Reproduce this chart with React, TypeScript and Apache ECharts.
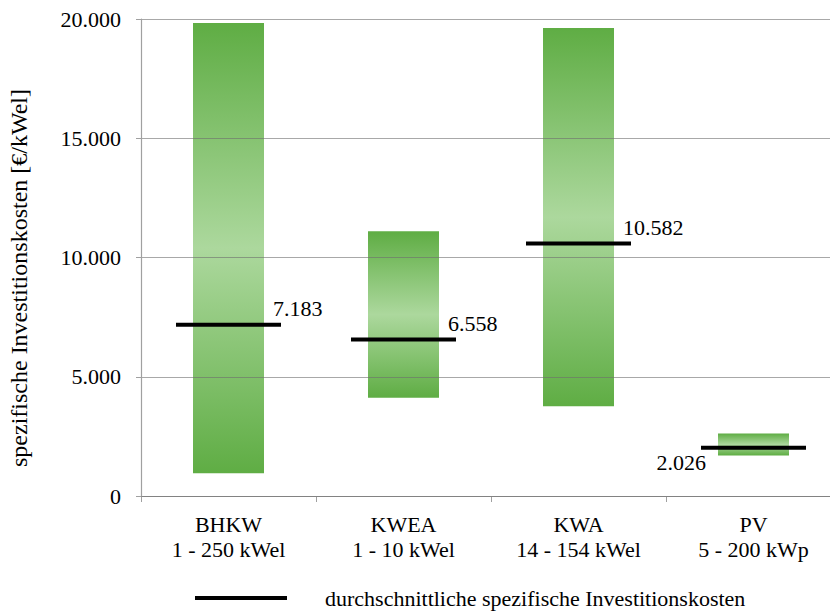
import React, { useEffect, useRef } from "react";
import * as echarts from "echarts";

const categories = ["BHKW\n1 - 250 kWel", "KWEA\n1 - 10 kWel", "KWA\n14 - 154 kWel", "PV\n5 - 200 kWp"];
const minValues = [950, 4120, 3760, 1700];
const maxValues = [19830, 11100, 19620, 2620];
const avgValues = [7183, 6558, 10582, 2026];
const yTicks = [0, 5000, 10000, 15000, 20000];
const legendName = "durchschnittliche spezifische Investitionskosten";
const yAxisTitle = "spezifische Investitionskosten [€/kWel]";

const fmt = (v: number) => String(Math.round(v)).replace(/\B(?=(\d{3})+(?!\d))/g, ".");

const FONT = "Liberation Serif";

export default function App() {
  const ref = useRef<HTMLDivElement>(null);
  useEffect(() => {
    if (!ref.current) return;
    const chart = echarts.init(ref.current, null, { renderer: "svg" });
    const grad = new echarts.graphic.LinearGradient(0, 0, 0, 1, [
      { offset: 0, color: "#5fad44" },
      { offset: 0.5, color: "#acd89d" },
      { offset: 1, color: "#5fad44" },
    ]);
    const txt = { fontFamily: FONT, fontSize: 22, color: "#000" };
    chart.setOption({
      animation: false,
      textStyle: { fontFamily: FONT },
      grid: { left: 141, top: 19, width: 700, height: 477, containLabel: false },
      graphic: [
        {
          type: "text",
          x: 19,
          y: 278,
          rotation: Math.PI / 2,
          style: {
            text: yAxisTitle,
            fontFamily: FONT,
            fontSize: 24,
            fill: "#000",
            align: "center",
            verticalAlign: "middle",
          },
        },
      ],
      legend: {
        data: [{ name: legendName, icon: "rect" }],
        left: 195,
        top: 587,
        padding: 0,
        itemWidth: 92,
        itemHeight: 4,
        textStyle: { ...txt, padding: [0, 0, 0, 33] },
      },
      xAxis: {
        type: "category",
        data: categories,
        axisLine: { lineStyle: { color: "#a0a0a0", width: 1.2 } },
        axisTick: { show: true, length: 6, lineStyle: { color: "#a0a0a0" } },
        axisLabel: { ...txt, lineHeight: 25, margin: 16 },
      },
      yAxis: {
        type: "value",
        min: 0,
        max: 20000,
        interval: 5000,
        z: 3,
        axisLine: { show: true, lineStyle: { color: "#a0a0a0", width: 1.2 } },
        axisTick: { show: true, length: 5, lineStyle: { color: "#a0a0a0" } },
        axisLabel: {
          ...txt,
          margin: 20,
          formatter: (v: number) => (yTicks.includes(v) ? fmt(v) : ""),
        },
        splitLine: { show: true, lineStyle: { color: "rgba(110,110,110,0.6)", width: 1.2 } },
      },
      series: [
        {
          type: "bar",
          stack: "r",
          barWidth: 71,
          data: minValues,
          itemStyle: { color: "rgba(0,0,0,0)" },
          silent: true,
        },
        {
          type: "bar",
          stack: "r",
          barWidth: 71,
          data: maxValues.map((v, i) => v - minValues[i]),
          itemStyle: { color: grad },
        },
        {
          name: legendName,
          type: "scatter",
          symbol: "rect",
          symbolSize: [105, 4],
          itemStyle: { color: "#000", opacity: 1 },
          z: 5,
          data: avgValues.map((v, i) => ({
            value: v,
            label:
              i < 3
                ? { show: true, position: [97, -14], align: "left", verticalAlign: "middle" }
                : { show: true, position: [5, 17], align: "right", verticalAlign: "middle" },
          })),
          label: {
            show: true,
            ...txt,
            formatter: (p: any) => fmt(p.value),
          },
        },
      ],
    });
    return () => chart.dispose();
  }, []);
  return (
    <div style={{ position: "absolute", left: 0, top: 0, width: 830, height: 612, overflow: "hidden", background: "#fff" }}>
      <div ref={ref} style={{ width: 850, height: 612 }} />
    </div>
  );
}
